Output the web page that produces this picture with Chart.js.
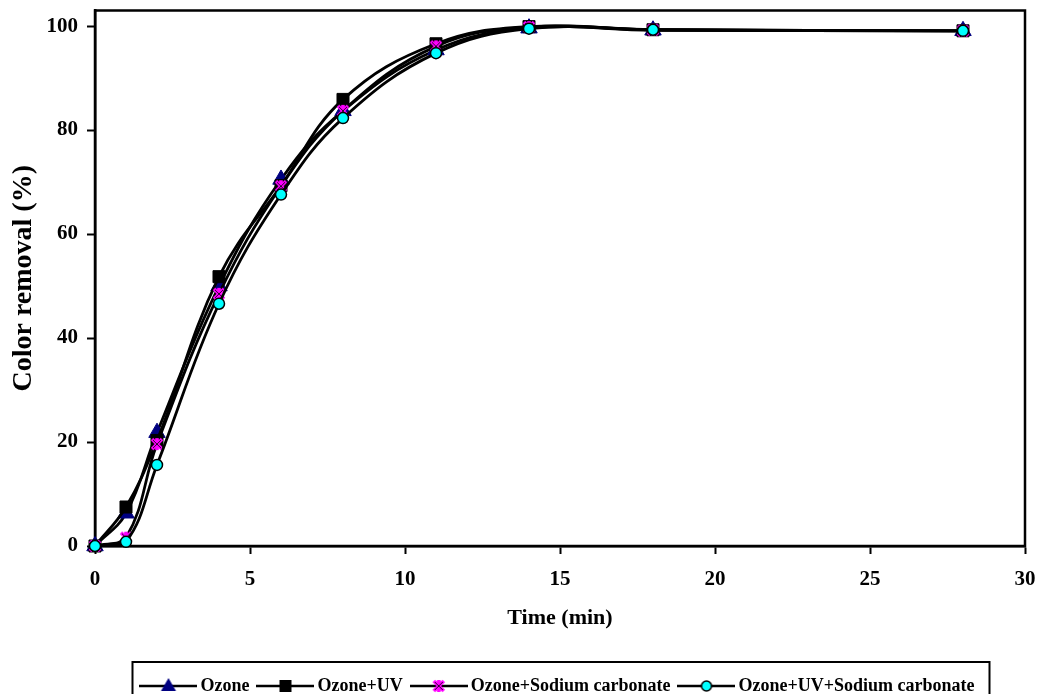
<!DOCTYPE html>
<html>
<head>
<meta charset="utf-8">
<script src="https://cdn.jsdelivr.net/npm/chart.js@4.4.1/dist/chart.umd.min.js"></script>
<style>
    html, body { margin: 0; padding: 0; background: #ffffff; }
</style>
</head>
<body>
<canvas id="removalChart" width="1042" height="694"></canvas>
<script>
const times = [0, 1, 2, 4, 6, 8, 11, 14, 18, 28];
const ozone = [0, 6.3, 21.8, 50, 70.5, 83.7, 95.4, 99.6, 99.2, 99.1];
const ozoneUV = [0, 7.5, 20.3, 51.8, 69.3, 85.9, 96.6, 99.9, 99.3, 99.1];
const ozoneSodium = [0, 1.6, 19.6, 48.5, 69.2, 83.7, 96.1, 99.8, 99.3, 99.1];
const ozoneUVSodium = [0, 0.8, 15.6, 46.6, 67.6, 82.3, 94.8, 99.5, 99.3, 99.1];
const seriesNames = ['Ozone', 'Ozone+UV', 'Ozone+Sodium carbonate', 'Ozone+UV+Sodium carbonate'];
const xTicks = [0, 5, 10, 15, 20, 25, 30];
const yTicks = [0, 20, 40, 60, 80, 100];

const serif = "'Liberation Serif', 'Times New Roman', serif";

// star marker (magenta asterisk) as a small canvas
function makeStar() {
    const c = document.createElement('canvas');
    c.width = 14; c.height = 14;
    const g = c.getContext('2d');
    g.strokeStyle = '#FF00FF';
    g.lineWidth = 3.5;
    g.beginPath();
    g.moveTo(2, 2); g.lineTo(12, 12);
    g.moveTo(12, 2); g.lineTo(2, 12);
    g.moveTo(7, 1); g.lineTo(7, 13);
    g.stroke();
    g.strokeStyle = '#300030';
    g.lineWidth = 1;
    g.beginPath();
    g.moveTo(3, 3); g.lineTo(11, 11);
    g.moveTo(11, 3); g.lineTo(3, 11);
    g.stroke();
    return c;
}
const starMarker = makeStar();

// legend symbol: line with marker in the middle
function makeLegendIcon(kind) {
    const c = document.createElement('canvas');
    c.width = 58; c.height = 20;
    const g = c.getContext('2d');
    g.strokeStyle = '#000';
    g.lineWidth = 2.5;
    g.beginPath();
    g.moveTo(0, 10); g.lineTo(58, 10);
    g.stroke();
    if (kind === 'triangle') {
        g.fillStyle = '#000080';
        g.beginPath();
        g.moveTo(29, 2); g.lineTo(36.5, 15); g.lineTo(21.5, 15);
        g.closePath();
        g.fill();
    } else if (kind === 'rect') {
        g.fillStyle = '#000';
        g.fillRect(23, 4, 12, 12);
    } else if (kind === 'star') {
        g.drawImage(starMarker, 22, 3);
    } else {
        g.fillStyle = '#00FFFF';
        g.strokeStyle = '#000';
        g.lineWidth = 1.5;
        g.beginPath();
        g.arc(29, 10, 5, 0, Math.PI * 2);
        g.fill();
        g.stroke();
    }
    return c;
}
const legendIcons = [makeLegendIcon('triangle'), makeLegendIcon('rect'), makeLegendIcon('star'), makeLegendIcon('circle')];

function toPoints(values) {
    return times.map((t, i) => ({ x: t, y: values[i] }));
}

const framePlugin = {
    id: 'frame',
    beforeDatasetsDraw(chart) {
        const a = chart.chartArea;
        const ctx = chart.ctx;
        ctx.save();
        ctx.strokeStyle = '#000';
        ctx.lineWidth = 2.5;
        ctx.strokeRect(a.left, a.top, a.right - a.left, a.bottom - a.top);
        ctx.restore();
    },
    afterDraw(chart) {
        const lg = chart.legend;
        if (!lg || !lg.legendHitBoxes.length) return;
        const boxes = lg.legendHitBoxes;
        const left = Math.min(...boxes.map(b => b.left)) - 13;
        const right = Math.max(...boxes.map(b => b.left + b.width)) + 15;
        const ctx = chart.ctx;
        ctx.save();
        ctx.strokeStyle = '#000';
        ctx.lineWidth = 2;
        ctx.strokeRect(left, lg.top - 2, right - left, 60);
        ctx.restore();
    }
};

const lineStyle = {
    borderColor: '#000000',
    borderWidth: 2.8,
    tension: 0.4,
    fill: false,
    clip: false,
    pointBorderWidth: 1.5
};

const ctx = document.getElementById('removalChart').getContext('2d');
const chart = new Chart(ctx, {
    type: 'line',
    data: {
        datasets: [{
            ...lineStyle,
            label: seriesNames[0],
            data: toPoints(ozone),
            pointStyle: 'triangle',
            pointRadius: 9.5,
            pointBackgroundColor: '#000080',
            pointBorderColor: '#000080',
            pointBorderWidth: 1,
            order: 3
        }, {
            ...lineStyle,
            label: seriesNames[1],
            data: toPoints(ozoneUV),
            pointStyle: 'rect',
            pointRadius: 8.5,
            pointBackgroundColor: '#000000',
            pointBorderColor: '#000000',
            pointBorderWidth: 1,
            order: 2
        }, {
            ...lineStyle,
            label: seriesNames[2],
            data: toPoints(ozoneSodium),
            pointStyle: starMarker,
            order: 1
        }, {
            ...lineStyle,
            label: seriesNames[3],
            data: toPoints(ozoneUVSodium),
            pointStyle: 'circle',
            pointRadius: 5.5,
            pointBackgroundColor: '#00FFFF',
            pointBorderColor: '#000000',
            order: 0
        }]
    },
    options: {
        responsive: false,
        animation: false,
        devicePixelRatio: 1,
        layout: {
            padding: { top: 6, right: 17, left: 0, bottom: -11 }
        },
        scales: {
            x: {
                type: 'linear',
                min: 0,
                max: 30,
                afterBuildTicks: (s) => { s.ticks = xTicks.map(v => ({ value: v })); },
                afterFit: (s) => { s.height = 118; s.paddingLeft = 0; s.paddingRight = 0; },
                ticks: {
                    color: '#000',
                    padding: 13,
                    font: { family: serif, size: 21, weight: 'bold' }
                },
                grid: {
                    drawOnChartArea: false,
                    tickLength: 8,
                    tickWidth: 2,
                    tickColor: '#000'
                },
                border: { color: '#000', width: 2.5 },
                title: {
                    display: true,
                    text: 'Time (min)',
                    color: '#000',
                    padding: { top: 0, bottom: 32 },
                    font: { family: serif, size: 22, weight: 'bold' }
                }
            },
            y: {
                min: 0,
                max: 103,
                afterBuildTicks: (s) => { s.ticks = yTicks.map(v => ({ value: v })); },
                afterFit: (s) => { s.width = 95; s.paddingTop = 0; s.paddingBottom = 0; },
                ticks: {
                    color: '#000',
                    padding: 9,
                    font: { family: serif, size: 21, weight: 'bold' }
                },
                grid: {
                    drawOnChartArea: false,
                    tickLength: 8,
                    tickWidth: 2,
                    tickColor: '#000'
                },
                border: { color: '#000', width: 2.5 },
                title: {
                    display: true,
                    text: 'Color removal (%)',
                    color: '#000',
                    padding: { top: 7, bottom: 0 },
                    font: { family: serif, size: 28, weight: 'bold' }
                }
            }
        },
        plugins: {
            tooltip: { enabled: false },
            legend: {
                position: 'bottom',
                fullSize: false,
                labels: {
                    usePointStyle: true,
                    pointStyleWidth: 46,
                    padding: 13,
                    color: '#000',
                    font: { family: serif, size: 18, weight: 'bold' },
                    generateLabels: (c) => c.data.datasets.map((ds, i) => ({
                        text: ds.label,
                        datasetIndex: i,
                        pointStyle: legendIcons[i],
                        fillStyle: '#000',
                        strokeStyle: '#000',
                        lineWidth: 0,
                        hidden: false,
                        fontColor: '#000'
                    }))
                }
            }
        }
    },
    plugins: [framePlugin]
});
</script>
</body>
</html>
